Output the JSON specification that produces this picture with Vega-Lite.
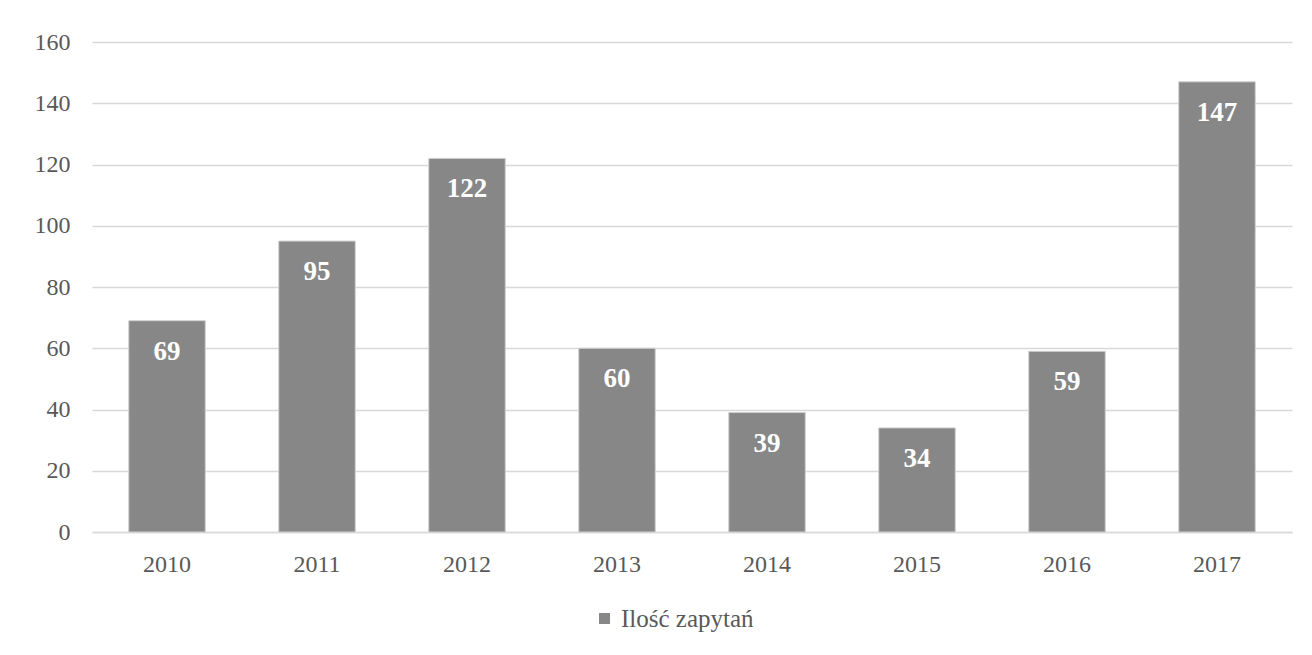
{
  "$schema": "https://vega.github.io/schema/vega-lite/v6.json",
  "width": 1200,
  "height": 490,
  "autosize": {"type": "none"},
  "padding": {"left": 92, "top": 42, "right": 20, "bottom": 123},
  "background": "white",
  "config": {
    "view": {"stroke": null},
    "font": "Liberation Serif",
    "legend": {"labelFont": "Liberation Serif", "labelFontSize": 24, "labelColor": "#595959"}
  },
  "data": {
    "values": [
      {"year": "2010", "value": 69, "series": "Ilość zapytań"},
      {"year": "2011", "value": 95, "series": "Ilość zapytań"},
      {"year": "2012", "value": 122, "series": "Ilość zapytań"},
      {"year": "2013", "value": 60, "series": "Ilość zapytań"},
      {"year": "2014", "value": 39, "series": "Ilość zapytań"},
      {"year": "2015", "value": 34, "series": "Ilość zapytań"},
      {"year": "2016", "value": 59, "series": "Ilość zapytań"},
      {"year": "2017", "value": 147, "series": "Ilość zapytań"}
    ]
  },
  "encoding": {
    "x": {
      "field": "year", "type": "nominal",
      "scale": {"paddingInner": 0.49, "paddingOuter": 0.245},
      "axis": {
        "title": null, "labelAngle": 0, "ticks": false,
        "domainColor": "#d9d9d9", "domainWidth": 1.5,
        "labelFont": "Liberation Serif", "labelFontSize": 24, "labelColor": "#595959",
        "labelPadding": 20
      }
    },
    "y": {
      "field": "value", "type": "quantitative",
      "scale": {"domain": [0, 160]},
      "axis": {
        "title": null, "values": [0, 20, 40, 60, 80, 100, 120, 140, 160],
        "domain": false, "ticks": false,
        "gridColor": "#d9d9d9", "gridWidth": 1.5,
        "labelFont": "Liberation Serif", "labelFontSize": 24, "labelColor": "#595959",
        "labelPadding": 22
      }
    }
  },
  "layer": [
    {
      "mark": {"type": "bar", "stroke": "#d0d0d0", "strokeWidth": 1},
      "encoding": {
        "color": {
          "field": "series", "type": "nominal",
          "scale": {"range": ["#878787"]},
          "legend": {
            "title": null, "orient": "none", "legendX": 500, "legendY": 564,
            "symbolType": "square", "symbolSize": 120, "symbolStrokeWidth": 0,
            "labelFont": "Liberation Serif", "labelFontSize": 25, "labelColor": "#595959",
            "labelOffset": 4
          }
        }
      }
    },
    {
      "mark": {
        "type": "text", "baseline": "middle", "dy": 31,
        "font": "Liberation Serif", "fontWeight": "bold", "fontSize": 27, "color": "white"
      },
      "encoding": {"text": {"field": "value", "type": "quantitative"}}
    }
  ]
}
